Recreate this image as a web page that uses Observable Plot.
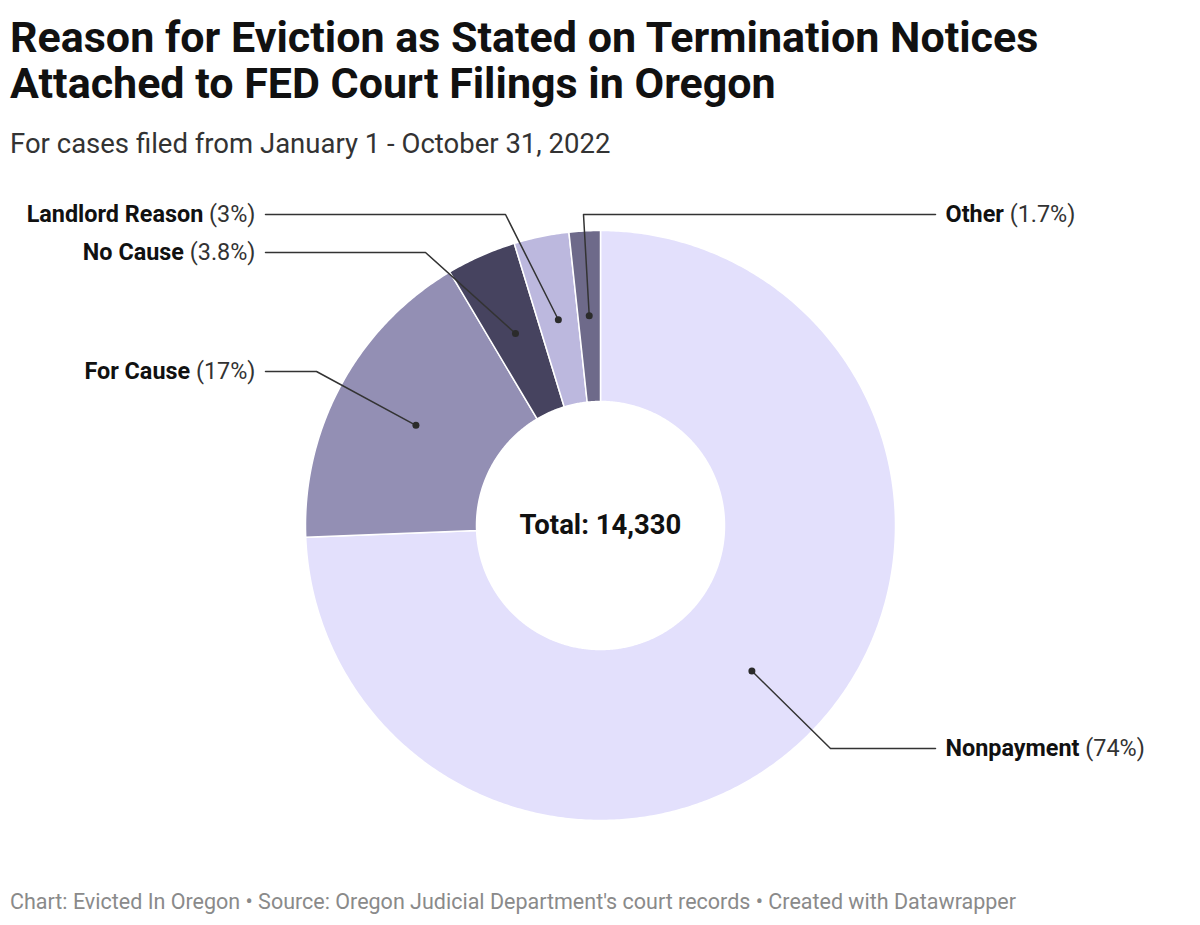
<!DOCTYPE html>
<html><head><meta charset="utf-8">
<script src="https://cdn.jsdelivr.net/npm/d3@7"></script>
<script src="https://cdn.jsdelivr.net/npm/@observablehq/plot@0.6"></script>
<style>
body{margin:0;background:#fff;font-family:Roboto,sans-serif;}
#wrap{width:1200px;height:925px;overflow:hidden;}
.title{margin:0;padding:14px 0 0 10px;font-size:43px;line-height:46px;font-weight:700;color:#111;white-space:nowrap;}
.sub{margin:22px 0 0 10px;font-size:27.5px;line-height:32px;color:#333;white-space:nowrap;}
#chart{margin-top:20px;height:680px;}
#chart svg{display:block;}
.foot{margin:29px 0 0 10px;font-size:21.5px;line-height:26px;color:#8a8a8a;white-space:nowrap;}
</style></head><body>
<div id="wrap">
<div class="title">Reason for Eviction as Stated on Termination Notices<br>Attached to FED Court Filings in Oregon</div>
<div class="sub">For cases filed from January 1 - October 31, 2022</div>
<div id="chart"></div>
<div class="foot">Chart: Evicted In Oregon • Source: Oregon Judicial Department's court records • Created with Datawrapper</div>
</div>
<script>
// ---- data ----
const categories = ["Nonpayment", "For Cause", "No Cause", "Landlord Reason", "Other"];
const shares = [74, 17, 3.8, 3, 1.7];
const pctLabels = ["(74%)", "(17%)", "(3.8%)", "(3%)", "(1.7%)"];
const colors = ["#e3e0fc", "#938fb4", "#46435f", "#bcb8de", "#6e6a8a"];
const totalLabel = "Total: 14,330";

// ---- layout (pixel units relative to the donut centre) ----
const R_OUT = 295, R_IN = 124, R_DOT = 210;
const leaderLayout = {
  "Nonpayment":      {elbow: [230, 223],   endX: 335,  side: "right"},
  "For Cause":       {elbow: [-284, -154], endX: -335, side: "left"},
  "No Cause":        {elbow: [-175, -273], endX: -335, side: "left"},
  "Landlord Reason": {elbow: [-95, -311],  endX: -335, side: "left"},
  "Other":           {elbow: [-17, -311],  endX: 335,  side: "right"}
};
const LABEL_GAP = 10;
const LABEL_SIZE = 23.4;

try {
const pie = d3.pie().sort(null).value(d => d.value).startAngle(0).endAngle(2 * Math.PI);
const arcs = pie(categories.map((c, i) => ({name: c, value: shares[i], pct: pctLabels[i]})));

const pt = (a, r) => [r * Math.sin(a), -r * Math.cos(a)];

const slicePts = [];
for (const a of arcs) {
  const n = Math.max(4, Math.ceil((a.endAngle - a.startAngle) / (Math.PI / 360)));
  for (let k = 0; k <= n; k++) {
    const t = a.startAngle + (a.endAngle - a.startAngle) * k / n;
    const [x, y] = pt(t, R_OUT);
    slicePts.push({name: a.data.name, x, y});
  }
  for (let k = n; k >= 0; k--) {
    const t = a.startAngle + (a.endAngle - a.startAngle) * k / n;
    const [x, y] = pt(t, R_IN);
    slicePts.push({name: a.data.name, x, y});
  }
}

const dots = [], leaders = [], labels = [];
const canvas = document.createElement("canvas");
const ctx = canvas.getContext("2d");
function measure(txt, bold) { ctx.font = (bold ? "bold " : "") + LABEL_SIZE + "px Roboto"; return ctx.measureText(txt).width; }
for (const a of arcs) {
  const mid = (a.startAngle + a.endAngle) / 2;
  const [dx, dy] = pt(mid, R_DOT);
  const L = leaderLayout[a.data.name];
  dots.push({x: dx, y: dy});
  leaders.push({name: a.data.name, x: dx, y: dy});
  leaders.push({name: a.data.name, x: L.elbow[0], y: L.elbow[1]});
  leaders.push({name: a.data.name, x: L.endX, y: L.elbow[1]});
  const lx = L.endX + (L.side === "right" ? LABEL_GAP : -LABEL_GAP);
  const wName = measure(a.data.name, true) + measure(" ", false);
  const wPct = measure(" " + a.data.pct, false);
  labels.push({name: a.data.name, pct: a.data.pct, x: lx, px: L.side === "right" ? lx + wName : lx, nx: L.side === "right" ? lx : lx - wPct, y: L.elbow[1], side: L.side});
}
const rightL = labels.filter(d => d.side === "right");
const leftL = labels.filter(d => d.side === "left");

const chart = Plot.plot({
  width: 1200, height: 680,
  marginTop: 0, marginBottom: 0, marginLeft: 0, marginRight: 0,
  x: {domain: [-600, 600], range: [0, 1200], axis: null},
  y: {domain: [-345, 335], range: [0, 680], axis: null},
  color: {domain: categories, range: colors},
  style: {fontFamily: "Roboto, sans-serif", background: "white", overflow: "visible"},
  marks: [
    Plot.line(slicePts, {x: "x", y: "y", z: "name", fill: "name", stroke: "white", strokeWidth: 1.5, curve: "linear-closed"}),
    Plot.line(leaders, {x: "x", y: "y", z: "name", stroke: "#333", strokeWidth: 1.5}),
    Plot.dot(dots, {x: "x", y: "y", r: 3.5, fill: "#2b2b2b"}),
    Plot.text(rightL, {x: "nx", y: "y", text: "name", textAnchor: "start", fontSize: LABEL_SIZE, fontWeight: 700, fill: "#111"}),
    Plot.text(rightL, {x: "px", y: "y", text: "pct", textAnchor: "start", fontSize: LABEL_SIZE, fill: "#333"}),
    Plot.text(leftL, {x: "px", y: "y", text: "pct", textAnchor: "end", fontSize: LABEL_SIZE, fill: "#333"}),
    Plot.text(leftL, {x: "nx", y: "y", text: "name", textAnchor: "end", fontSize: LABEL_SIZE, fontWeight: 700, fill: "#111"}),
    Plot.text([totalLabel], {x: () => 0, y: () => 0, text: d => d, fontSize: 27.5, fontWeight: 700, fill: "#111"})
  ]
});
document.getElementById("chart").appendChild(chart);
} catch (e) {
  document.getElementById("chart").textContent = "ERROR: " + e.message;
}
</script>
</body></html>
